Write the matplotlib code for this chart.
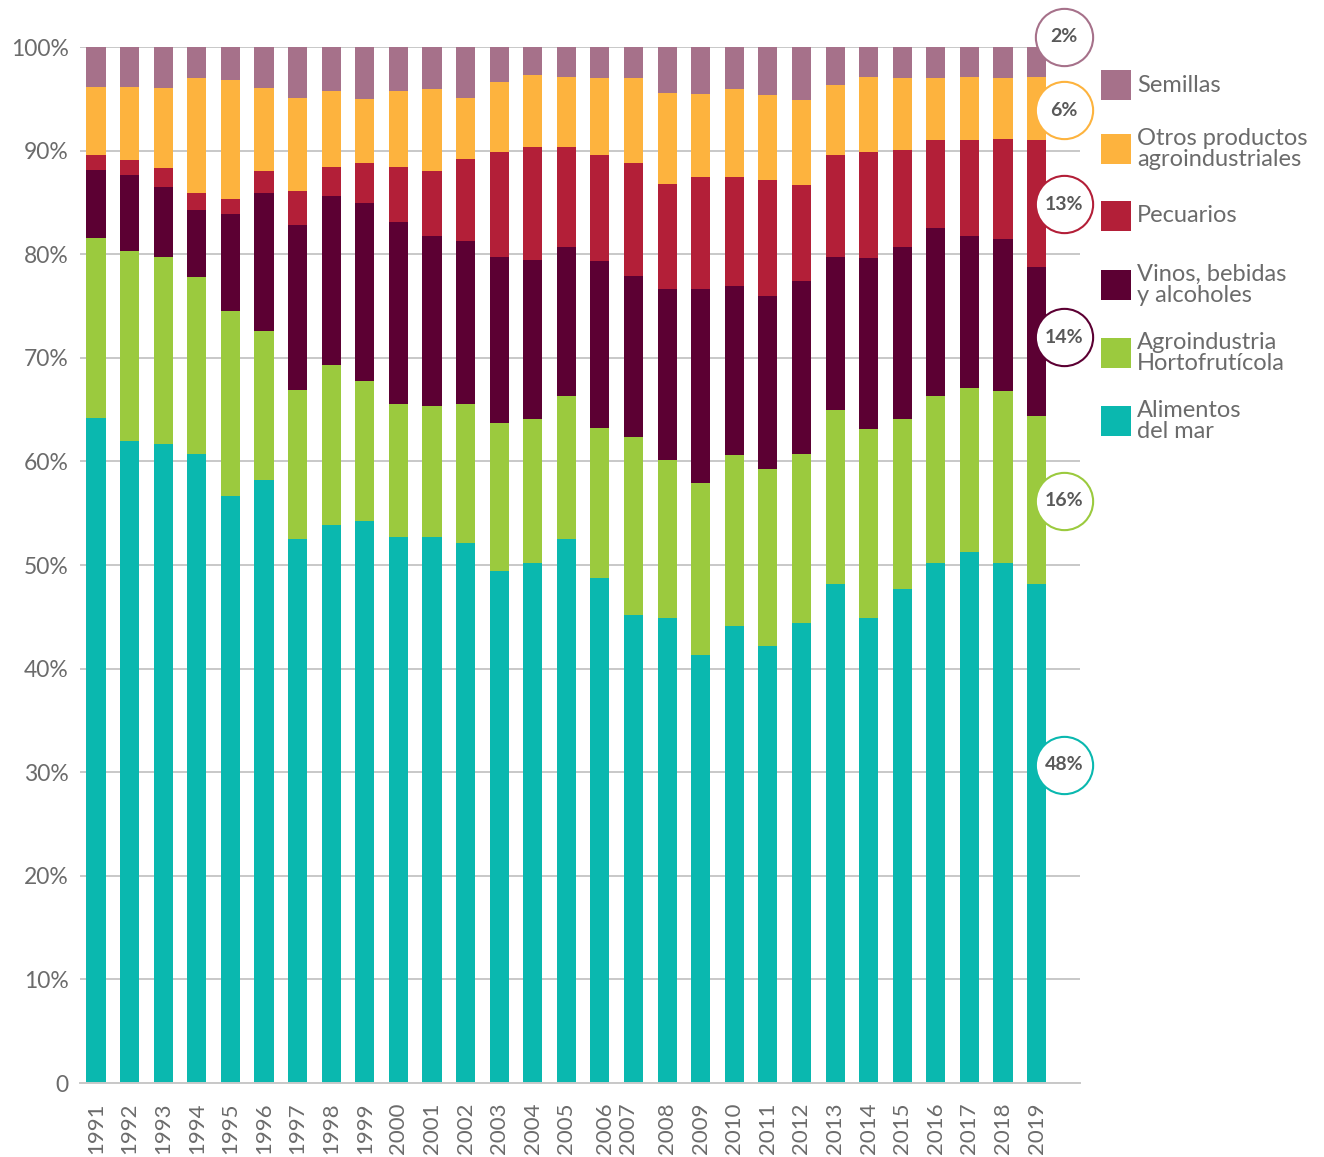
"""Exportaciones silvoagropecuarias por sector, 1991-2019 (participación %)."""

import numpy as np
import matplotlib.pyplot as plt
from matplotlib.patches import Rectangle
from matplotlib.transforms import ScaledTranslation

plt.rcParams["font.family"] = ["Lato", "DejaVu Sans"]

# --------------------------------------------------------------------------- #
# Datos (% del total anual)
# --------------------------------------------------------------------------- #
years = list(range(1991, 2020))

alimentos_mar = [64.2, 62.0, 61.7, 60.7, 56.7, 58.2, 52.5, 53.9, 54.2, 52.7,
                 52.7, 52.1, 49.4, 50.2, 52.5, 48.7, 45.2, 44.9, 41.3, 44.1,
                 42.2, 44.4, 48.2, 44.9, 47.7, 50.2, 51.3, 50.2, 48.2]
agro_horto = [17.4, 18.3, 18.0, 17.1, 17.8, 14.4, 14.4, 15.4, 13.6, 12.8,
              12.6, 13.4, 14.3, 13.9, 13.8, 14.5, 17.2, 15.2, 16.6, 16.5,
              17.1, 16.3, 16.8, 18.2, 16.4, 16.1, 15.8, 16.6, 16.2]
vinos = [6.5, 7.3, 6.8, 6.5, 9.4, 13.3, 15.9, 16.3, 17.1, 17.6,
         16.5, 15.8, 16.0, 15.3, 14.4, 16.1, 15.5, 16.5, 18.7, 16.3,
         16.7, 16.7, 14.7, 16.5, 16.6, 16.2, 14.7, 14.7, 14.4]
pecuarios = [1.5, 1.5, 1.8, 1.6, 1.4, 2.1, 3.3, 2.8, 3.9, 5.3,
             6.2, 7.9, 10.2, 10.9, 9.6, 10.3, 10.9, 10.2, 10.9, 10.6,
             11.2, 9.3, 9.9, 10.3, 9.4, 8.5, 9.2, 9.6, 12.2]
otros = [6.5, 7.0, 7.75, 11.1, 11.5, 8.05, 9.0, 7.4, 6.2, 7.4,
         7.9, 5.9, 6.7, 7.0, 6.8, 7.4, 8.2, 8.8, 8.0, 8.4,
         8.15, 8.2, 6.7, 7.2, 6.9, 6.0, 6.1, 5.9, 6.1]
semillas = [3.9, 3.9, 3.95, 3.0, 3.2, 3.95, 4.9, 4.2, 5.0, 4.2,
            4.1, 4.9, 3.4, 2.7, 2.9, 3.0, 3.0, 4.4, 4.5, 4.1,
            4.65, 5.1, 3.7, 2.9, 3.0, 3.0, 2.9, 3.0, 2.9]

series_names = ["Alimentos\ndel mar", "Agroindustria\nHortofrutícola",
                "Vinos, bebidas\ny alcoholes", "Pecuarios",
                "Otros productos\nagroindustriales", "Semillas"]
series_colors = ["#0AB8AF", "#9BCA3E", "#5C0033", "#B31F38",
                 "#FDB33E", "#A6718A"]
last_labels = ["48%", "16%", "14%", "13%", "6%", "2%"]

# --------------------------------------------------------------------------- #
# Figura
# --------------------------------------------------------------------------- #
W, H = 1324, 1157
fig = plt.figure(figsize=(W / 100, H / 100), dpi=100)
ax = fig.add_axes([80 / W, (H - 1083) / H, 1000 / W, 1036 / H])

data = np.array([alimentos_mar, agro_horto, vinos, pecuarios, otros, semillas])
data = data / data.sum(axis=0) * 100          # apilado al 100 %
x = np.arange(len(years))

bottom = np.zeros(len(years))
for vals, col in zip(data, series_colors):
    ax.bar(x, vals, width=0.57, bottom=bottom, color=col, zorder=2)
    bottom += vals

ax.set_xlim(-0.476, 29.29)
ax.set_ylim(0, 100)
ax.set_yticks(np.arange(0, 101, 10))
ax.set_yticklabels(["0"] + [f"{v}%" for v in range(10, 101, 10)])
ax.set_xticks(x)
ax.set_xticklabels([str(y) for y in years], rotation=90)
ax.tick_params(axis="y", length=0, pad=8, labelsize=16.5, labelcolor="#6b6b6b")
ax.tick_params(axis="x", length=0, pad=14, labelsize=16, labelcolor="#6b6b6b")

# en el original 2006 y 2007 aparecen juntos
for lab, dx in zip(ax.get_xticklabels()[15:17], (5, -6)):
    lab.set_transform(lab.get_transform()
                      + ScaledTranslation(dx / 100, 0, fig.dpi_scale_trans))

ax.grid(axis="y", color="#c8c8c8", lw=1.4, zorder=0)
ax.set_axisbelow(True)
for side in ["left", "right", "top"]:
    ax.spines[side].set_visible(False)
ax.spines["bottom"].set_color("#c8c8c8")
ax.spines["bottom"].set_linewidth(1.4)

# Etiquetas circulares del último año
label_y = [30.7, 56.2, 72.0, 84.8, 93.9, 101.0]
label_x = x[-1] + 0.82
for txt, yy, col in zip(last_labels, label_y, series_colors):
    ax.scatter(label_x, yy, s=1700, facecolor="white", edgecolor=col,
               lw=1.5, zorder=5, clip_on=False)
    ax.text(label_x, yy, txt, ha="center", va="center", fontsize=14,
            fontweight="bold", color="#595959", zorder=6, clip_on=False)

# Leyenda manual (de arriba a abajo)
legend_y = [85, 149, 216, 285, 353, 421]
for name, col, yc in zip(series_names[::-1], series_colors[::-1], legend_y):
    fig.patches.append(Rectangle(((1101) / W, (H - yc - 15) / H), 30 / W,
                                 30 / H, transform=fig.transFigure,
                                 facecolor=col, edgecolor="none"))
    fig.text(1137 / W, (H - yc) / H, name, ha="left", va="center",
             fontsize=17, color="#6b6b6b", linespacing=1.03)

fig.savefig("out.png", dpi=100)
